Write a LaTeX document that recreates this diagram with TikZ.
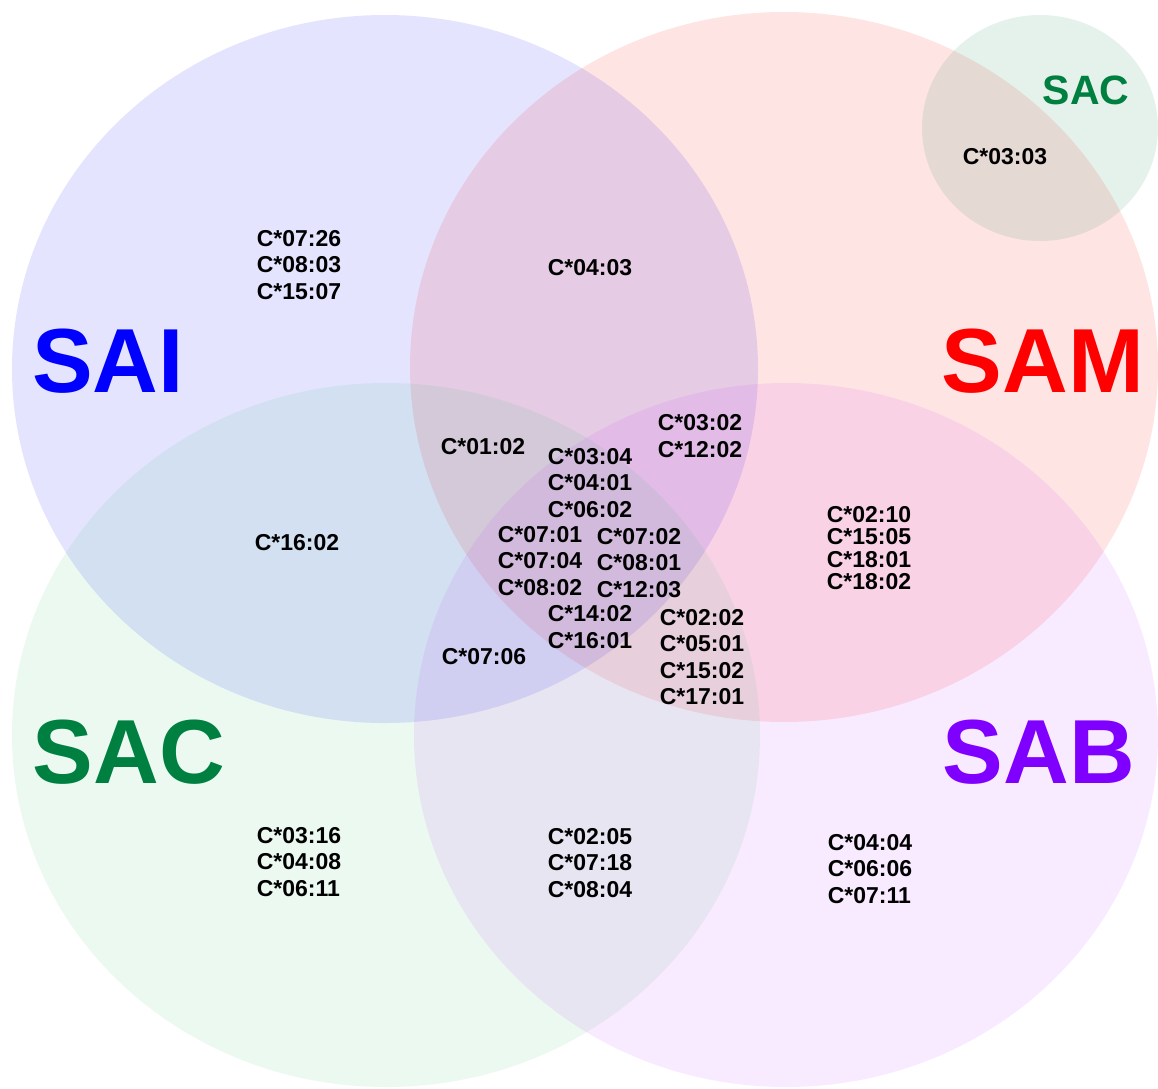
\documentclass[tikz,border=0pt]{standalone}
\usepackage{fontspec}
\setmainfont{Liberation Sans}
\definecolor{saiblue}{RGB}{0,0,255}
\definecolor{samred}{RGB}{255,0,0}
\definecolor{sacgreen}{RGB}{0,128,64}
\definecolor{sacfill}{RGB}{0,180,80}
\definecolor{sabpurple}{RGB}{128,0,255}
\definecolor{sabfill}{RGB}{200,60,255}
\begin{document}
\begin{tikzpicture}[x=1pt,y=-1pt,
  allele/.style={font=\fontsize{23}{26.5}\selectfont\bfseries, align=left, inner sep=0pt},
  tight/.style={font=\fontsize{23}{22.5}\selectfont\bfseries, align=left, inner sep=0pt},
  biglab/.style={font=\fontsize{91}{91}\selectfont\bfseries, inner sep=0pt},
  smalllab/.style={font=\fontsize{41}{41}\selectfont\bfseries, inner sep=0pt}]
\useasboundingbox (0,0) rectangle (1158,1088);
\fill[white] (0,0) rectangle (1158,1088);
% sets
\fill[saiblue, fill opacity=0.105] (385,369) ellipse [x radius=373pt, y radius=354pt];
\fill[samred, fill opacity=0.105] (784,367) ellipse [x radius=374pt, y radius=355pt];
\fill[sacfill, fill opacity=0.08] (386,735) ellipse [x radius=374pt, y radius=352pt];
\fill[sabfill, fill opacity=0.1] (786,735) ellipse [x radius=372pt, y radius=352pt];
\fill[sacgreen, fill opacity=0.1] (1040,128) ellipse [x radius=118pt, y radius=113pt];
% set labels
\node[biglab, text=saiblue] (lSAI) at (108,361) {SAI};
\node[biglab, text=samred] (lSAM) at (1043,361) {SAM};
\node[biglab, text=sacgreen] (lSAC) at (129,752) {SAC};
\node[biglab, text=sabpurple] (lSAB) at (1039,752) {SAB};
\node[smalllab, text=sacgreen] (lSACs) at (1086,90) {SAC};
% alleles
\node[allele] (a1) at (299,265) {C*07:26\\C*08:03\\C*15:07};
\node[allele] (a2) at (590,268) {C*04:03};
\node[allele] (a3) at (1005,157) {C*03:03};
\node[allele] (a4) at (297,543) {C*16:02};
\node[tight] (a5) at (869,548) {C*02:10\\C*15:05\\C*18:01\\C*18:02};
\node[allele] (a6) at (299,862) {C*03:16\\C*04:08\\C*06:11};
\node[allele] (a7) at (590,863) {C*02:05\\C*07:18\\C*08:04};
\node[allele] (a8) at (870,869) {C*04:04\\C*06:06\\C*07:11};
\node[allele] (a9) at (483,447) {C*01:02};
\node[allele] (a10) at (700,436) {C*03:02\\C*12:02};
\node[allele] (a11) at (590,483) {C*03:04\\C*04:01\\C*06:02};
\node[allele] (a12) at (540,561) {C*07:01\\C*07:04\\C*08:02};
\node[allele] (a13) at (639,563) {C*07:02\\C*08:01\\C*12:03};
\node[allele] (a14) at (590,627) {C*14:02\\C*16:01};
\node[allele] (a15) at (702,657) {C*02:02\\C*05:01\\C*15:02\\C*17:01};
\node[allele] (a16) at (484,657) {C*07:06};
\end{tikzpicture}
\end{document}
